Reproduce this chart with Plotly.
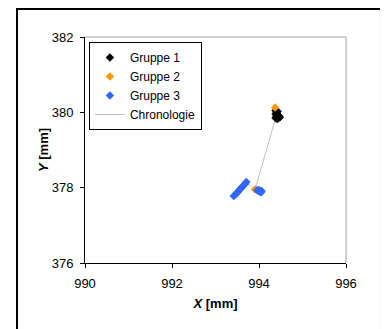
import plotly.graph_objects as go

g1_x = [994.38, 994.40, 994.38, 994.42, 994.40, 994.45, 994.48, 994.42, 994.38, 994.43, 994.41, 994.46]
g1_y = [380.05, 380.00, 379.95, 379.92, 379.88, 379.85, 379.87, 379.82, 379.85, 380.02, 379.97, 379.90]
g2_x = [994.37, 993.91]
g2_y = [380.13, 377.95]
g3_x = [993.42, 993.46, 993.49, 993.52, 993.55, 993.58, 993.61, 993.64, 993.67, 993.71,
        993.96, 993.99, 994.02, 994.05, 994.00, 994.06]
g3_y = [377.78, 377.82, 377.86, 377.90, 377.94, 377.98, 378.02, 378.05, 378.09, 378.15,
        377.93, 377.91, 377.89, 377.88, 377.94, 377.91]
chron_x = [994.38, 993.91, 993.72]
chron_y = [379.84, 377.95, 378.12]

font = "Arial, Liberation Sans, sans-serif"
fig = go.Figure()
fig.add_trace(go.Scatter(x=chron_x, y=chron_y, mode="lines", name="Chronologie",
                         line=dict(color="#C0C0C0", width=1), showlegend=False))
fig.add_trace(go.Scatter(x=g1_x, y=g1_y, mode="markers", name="Gruppe 1",
                         marker=dict(symbol="diamond", size=6.5, color="black")))
fig.add_trace(go.Scatter(x=g2_x, y=g2_y, mode="markers", name="Gruppe 2",
                         marker=dict(symbol="diamond", size=6.5, color="#FF9900")))
fig.add_trace(go.Scatter(x=g3_x, y=g3_y, mode="markers", name="Gruppe 3",
                         marker=dict(symbol="diamond", size=6.5, color="#3366FF")))
fig.add_trace(go.Scatter(x=[None], y=[None], mode="lines", name="Chronologie",
                         line=dict(color="#C0C0C0", width=1)))

fig.update_layout(
    width=388, height=329,
    margin=dict(l=77, r=50, t=29, b=74),
    paper_bgcolor="white", plot_bgcolor="white",
    font=dict(family=font, size=13, color="black"),
    showlegend=True,
    legend=dict(x=0.015, y=0.978, xanchor="left", yanchor="top",
                bordercolor="black", borderwidth=1, bgcolor="white",
                font=dict(size=12), tracegroupgap=0, itemwidth=30),
    xaxis=dict(range=[990, 996], tickvals=[990, 992, 994, 996], showgrid=False, zeroline=False,
               showline=True, linecolor="black", linewidth=1, ticks="outside", ticklen=4,
               tickcolor="black", ticklabelstandoff=4,
               title=dict(text="<b><i>X</i> [mm]</b>", font=dict(size=13), standoff=9)),
    yaxis=dict(range=[376, 382], tickvals=[376, 378, 380, 382], showgrid=False, zeroline=False,
               showline=True, linecolor="black", linewidth=1, ticks="outside", ticklen=4,
               tickcolor="black", ticklabelstandoff=4,
               title=dict(text="<b><i>Y</i> [mm]</b>", font=dict(size=13), standoff=0)),
    shapes=[
        dict(type="line", xref="paper", yref="paper", x0=0, x1=1, y0=1, y1=1,
             line=dict(color="#A0A0A0", width=1)),
        dict(type="line", xref="paper", yref="paper", x0=1, x1=1, y0=0, y1=1,
             line=dict(color="#A0A0A0", width=1)),
        dict(type="rect", xref="paper", yref="paper", x0=-0.2605, x1=1.134, y0=-0.4, y1=1.1239,
             line=dict(color="black", width=2), layer="below"),
    ],
)
fig.write_html("out.html")
